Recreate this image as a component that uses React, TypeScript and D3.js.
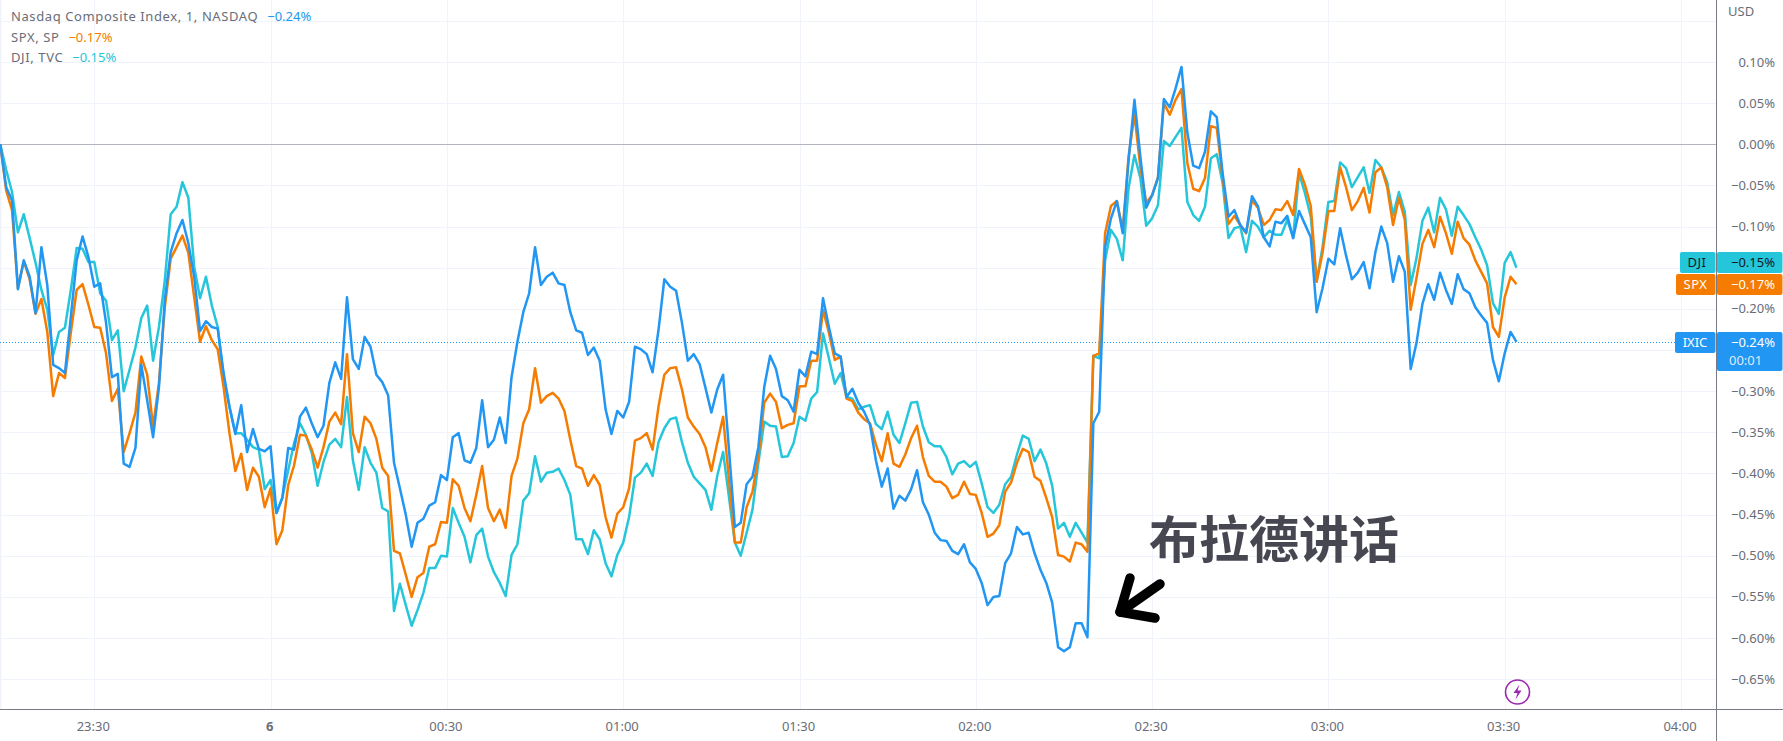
import React from "react";
import * as d3 from "d3";

const WIDTH = 1783;
const HEIGHT = 741;

const IXIC = [0,-.052,-.068,-.176,-.141,-.161,-.205,-.125,-.171,-.268,-.272,-.278,-.210,-.141,-.112,-.137,-.173,-.169,-.217,-.283,-.279,-.388,-.392,-.369,-.268,-.311,-.356,-.295,-.189,-.131,-.108,-.092,-.120,-.161,-.227,-.215,-.222,-.224,-.278,-.319,-.352,-.317,-.374,-.346,-.370,-.373,-.367,-.448,-.430,-.369,-.371,-.331,-.320,-.339,-.356,-.342,-.290,-.265,-.285,-.186,-.261,-.273,-.234,-.246,-.280,-.289,-.305,-.387,-.418,-.450,-.489,-.460,-.455,-.439,-.435,-.402,-.408,-.356,-.351,-.384,-.387,-.369,-.311,-.368,-.359,-.332,-.363,-.283,-.240,-.204,-.181,-.125,-.171,-.161,-.156,-.169,-.171,-.204,-.226,-.229,-.256,-.247,-.263,-.322,-.352,-.324,-.332,-.313,-.246,-.249,-.255,-.277,-.226,-.164,-.173,-.178,-.217,-.263,-.255,-.267,-.296,-.326,-.298,-.280,-.371,-.465,-.460,-.413,-.404,-.368,-.295,-.257,-.273,-.306,-.311,-.325,-.274,-.282,-.252,-.255,-.187,-.222,-.254,-.258,-.307,-.297,-.314,-.325,-.341,-.384,-.416,-.394,-.443,-.427,-.433,-.419,-.396,-.435,-.450,-.472,-.481,-.482,-.494,-.498,-.486,-.508,-.516,-.533,-.560,-.550,-.549,-.509,-.497,-.465,-.474,-.472,-.497,-.517,-.533,-.557,-.611,-.616,-.611,-.582,-.582,-.599,-.339,-.325,-.125,-.090,-.069,-.108,-.019,.054,-.015,-.077,-.062,-.041,.055,.045,.068,.094,.014,-.026,-.029,-.009,.040,.033,-.035,-.088,-.080,-.098,-.107,-.063,-.075,-.113,-.124,-.094,-.096,-.087,-.114,-.081,-.097,-.113,-.204,-.175,-.139,-.146,-.102,-.135,-.164,-.156,-.143,-.175,-.131,-.100,-.120,-.167,-.136,-.155,-.273,-.241,-.194,-.170,-.189,-.156,-.177,-.194,-.158,-.176,-.181,-.198,-.208,-.217,-.262,-.288,-.254,-.228,-.240];

const SPX = [0,-.056,-.080,-.175,-.142,-.164,-.206,-.188,-.228,-.306,-.278,-.284,-.229,-.177,-.170,-.195,-.222,-.223,-.254,-.312,-.297,-.374,-.351,-.326,-.258,-.280,-.343,-.290,-.198,-.139,-.125,-.111,-.132,-.186,-.240,-.221,-.238,-.249,-.295,-.351,-.397,-.376,-.420,-.393,-.404,-.441,-.418,-.486,-.469,-.414,-.390,-.353,-.354,-.371,-.393,-.368,-.337,-.326,-.340,-.255,-.351,-.374,-.331,-.339,-.358,-.393,-.403,-.494,-.497,-.523,-.550,-.526,-.521,-.489,-.486,-.459,-.460,-.407,-.415,-.442,-.458,-.426,-.391,-.442,-.458,-.444,-.466,-.403,-.382,-.339,-.322,-.272,-.314,-.306,-.302,-.309,-.324,-.359,-.391,-.394,-.415,-.402,-.414,-.453,-.478,-.449,-.441,-.418,-.360,-.357,-.351,-.371,-.319,-.280,-.272,-.271,-.298,-.332,-.343,-.352,-.368,-.397,-.363,-.331,-.408,-.484,-.484,-.441,-.422,-.380,-.314,-.303,-.313,-.345,-.341,-.339,-.294,-.294,-.263,-.263,-.201,-.229,-.262,-.258,-.309,-.312,-.326,-.334,-.339,-.365,-.385,-.351,-.388,-.392,-.377,-.357,-.342,-.380,-.403,-.410,-.410,-.416,-.430,-.426,-.410,-.425,-.426,-.448,-.477,-.473,-.463,-.422,-.411,-.387,-.370,-.374,-.404,-.409,-.430,-.453,-.499,-.501,-.507,-.484,-.486,-.495,-.257,-.254,-.108,-.075,-.069,-.104,-.015,.036,-.028,-.071,-.062,-.040,.050,.036,.054,.067,-.023,-.054,-.057,-.041,.022,.020,-.041,-.097,-.087,-.098,-.108,-.068,-.077,-.098,-.092,-.079,-.080,-.069,-.086,-.030,-.049,-.075,-.167,-.132,-.081,-.081,-.028,-.052,-.080,-.069,-.053,-.083,-.034,-.028,-.052,-.098,-.065,-.092,-.201,-.162,-.121,-.104,-.125,-.088,-.108,-.133,-.094,-.114,-.122,-.141,-.155,-.169,-.222,-.234,-.186,-.161,-.170];

const DJI = [0,-.031,-.058,-.107,-.085,-.114,-.144,-.177,-.201,-.256,-.228,-.223,-.177,-.126,-.127,-.143,-.143,-.181,-.190,-.238,-.226,-.300,-.274,-.247,-.211,-.196,-.263,-.222,-.165,-.085,-.076,-.046,-.065,-.149,-.187,-.161,-.196,-.222,-.283,-.319,-.351,-.351,-.359,-.368,-.371,-.419,-.408,-.448,-.429,-.396,-.363,-.339,-.353,-.375,-.415,-.386,-.365,-.358,-.368,-.307,-.384,-.420,-.368,-.387,-.399,-.442,-.446,-.567,-.534,-.560,-.585,-.566,-.545,-.515,-.515,-.500,-.501,-.442,-.460,-.477,-.508,-.475,-.467,-.501,-.520,-.533,-.549,-.499,-.486,-.433,-.424,-.379,-.410,-.399,-.398,-.394,-.408,-.426,-.480,-.480,-.498,-.469,-.480,-.509,-.525,-.499,-.484,-.453,-.405,-.399,-.388,-.403,-.362,-.345,-.334,-.332,-.362,-.387,-.404,-.412,-.420,-.444,-.403,-.374,-.429,-.484,-.500,-.472,-.444,-.387,-.337,-.342,-.343,-.380,-.379,-.363,-.331,-.336,-.309,-.301,-.230,-.260,-.291,-.278,-.307,-.309,-.322,-.319,-.317,-.340,-.346,-.325,-.353,-.363,-.339,-.314,-.313,-.343,-.362,-.367,-.367,-.380,-.401,-.388,-.385,-.392,-.386,-.412,-.441,-.448,-.438,-.413,-.404,-.377,-.354,-.358,-.385,-.371,-.388,-.415,-.467,-.460,-.477,-.460,-.472,-.484,-.257,-.260,-.141,-.104,-.115,-.141,-.053,-.013,-.041,-.099,-.090,-.074,.004,-.002,.009,.020,-.070,-.086,-.093,-.076,-.017,-.012,-.047,-.114,-.102,-.100,-.131,-.093,-.100,-.113,-.105,-.110,-.110,-.092,-.113,-.035,-.059,-.088,-.167,-.125,-.070,-.069,-.022,-.029,-.052,-.040,-.028,-.059,-.019,-.028,-.046,-.086,-.058,-.082,-.171,-.138,-.093,-.077,-.107,-.065,-.079,-.111,-.076,-.086,-.097,-.113,-.128,-.147,-.193,-.206,-.144,-.131,-.150];

const FIRST_MINUTE = -16; // minutes relative to 23:30
const TIME_TICKS = [0, 30, 60, 90, 120, 150, 180, 210, 240, 270];
const TIME_LABELS = ["23:30", "6", "00:30", "01:00", "01:30", "02:00", "02:30", "03:00", "03:30", "04:00"];
const PRICE_GRID = [0.15, 0.1, 0.05, 0, -0.05, -0.1, -0.15, -0.2, -0.25, -0.3, -0.35, -0.4, -0.45, -0.5, -0.55, -0.6, -0.65];
const PRICE_HIDDEN = [0.15, -0.15, -0.25];

const LEGEND = [
  { name: "Nasdaq Composite Index, 1, NASDAQ", value: "−0.24%", color: "#2196f3" },
  { name: "SPX, SP", value: "−0.17%", color: "#f57c00" },
  { name: "DJI, TVC", value: "−0.15%", color: "#26c6da" },
];

const BLUE = "#2196f3";
const ORANGE = "#f57c00";
const CYAN = "#26c6da";
const GRID = "#f0f3fa";
const AXIS = "#787b86";
const TEXT = "#6a6d78";
const FONT = "'Noto Sans', sans-serif";

const fmt = (v: number) => {
  const s = Math.abs(v).toFixed(2) + "%";
  return (v < -1e-9 ? "−" : "") + s;
};

export default function App() {
  const x = d3.scaleLinear().domain([0, 30]).range([94.3, 270.6]);
  const y = d3.scaleLinear().domain([0, -0.65]).range([144.3, 679.2]);
  const line = d3
    .line<number>()
    .x((_, i) => x(FIRST_MINUTE + i))
    .y((d) => y(d))
    .curve(d3.curveLinear);
  const lastY = y(IXIC[IXIC.length - 1]);

  return (
    <svg
      width={WIDTH}
      height={HEIGHT}
      style={{ position: "absolute", left: 0, top: 0, display: "block", background: "#fff" }}
      fontFamily={FONT}
    >
      <rect x={0} y={0} width={1.5} height={709} fill={GRID} />
      {PRICE_GRID.filter((v) => v !== 0).map((v) => (
        <line key={v} x1={0} x2={1716} y1={Math.round(y(v)) + 0.5} y2={Math.round(y(v)) + 0.5} stroke={GRID} />
      ))}
      {TIME_TICKS.map((t) => (
        <line key={t} x1={Math.round(x(t)) + 0.5} x2={Math.round(x(t)) + 0.5} y1={0} y2={709} stroke={GRID} />
      ))}
      <line x1={0} x2={1716} y1={144.5} y2={144.5} stroke="#b2b5be" />

      {/* last-price dotted line */}
      <line x1={0} x2={1676} y1={Math.round(lastY) + 0.5} y2={Math.round(lastY) + 0.5} stroke={BLUE} strokeDasharray="1 2" />

      <path d={line(DJI) ?? ""} fill="none" stroke={CYAN} strokeWidth={2.5} strokeLinejoin="round" />
      <path d={line(SPX) ?? ""} fill="none" stroke={ORANGE} strokeWidth={2.5} strokeLinejoin="round" />
      <path d={line(IXIC) ?? ""} fill="none" stroke={BLUE} strokeWidth={2.5} strokeLinejoin="round" />

      {/* legend */}
      {LEGEND.map((l, i) => (
        <text key={l.name} x={11} y={21 + i * 20.5} fontSize={13} fill={TEXT}>
          <tspan letterSpacing={0.6}>{l.name}</tspan>
          <tspan dx={9} fill={l.color}>{l.value}</tspan>
        </text>
      ))}

      {/* axes */}
      <line x1={0} x2={WIDTH} y1={709.5} y2={709.5} stroke={AXIS} />
      <line x1={1716.5} x2={1716.5} y1={0} y2={HEIGHT} stroke={AXIS} />

      {TIME_TICKS.map((t, i) => (
        <text
          key={t}
          x={x(t) - 1}
          y={731}
          textAnchor="middle"
          fontSize={13}
          fontWeight={TIME_LABELS[i] === "6" ? 700 : 400}
          fill={TEXT}
        >
          {TIME_LABELS[i]}
        </text>
      ))}

      <text x={1728} y={16} fontSize={13} fill={TEXT}>USD</text>
      {PRICE_GRID.filter((v) => !PRICE_HIDDEN.includes(v)).map((v) => (
        <text key={v} x={1775} y={y(v) + 4.5} textAnchor="end" fontSize={13} fill={TEXT}>
          {fmt(v)}
        </text>
      ))}

      {/* last value badges */}
      <rect x={1680} y={252} width={35.5} height={21} rx={2} fill={CYAN} />
      <rect x={1717} y={252} width={65.5} height={21} rx={2} fill={CYAN} />
      <text x={1697} y={267} textAnchor="middle" fontSize={13} letterSpacing={0.5} fill="#131722">DJI</text>
      <text x={1775} y={267} textAnchor="end" fontSize={13} fill="#131722">{fmt(DJI[DJI.length - 1])}</text>

      <rect x={1676} y={274} width={39.5} height={21} rx={2} fill={ORANGE} />
      <rect x={1717} y={274} width={65.5} height={21} rx={2} fill={ORANGE} />
      <text x={1695.5} y={289} textAnchor="middle" fontSize={13} letterSpacing={0.5} fill="#fff">SPX</text>
      <text x={1775} y={289} textAnchor="end" fontSize={13} fill="#fff">{fmt(SPX[SPX.length - 1])}</text>

      <rect x={1675} y={332} width={40.5} height={21} rx={2} fill={BLUE} />
      <rect x={1717} y={332} width={65.5} height={39} rx={2} fill={BLUE} />
      <text x={1695} y={347} textAnchor="middle" fontSize={13} fill="#fff">IXIC</text>
      <text x={1775} y={347} textAnchor="end" fontSize={13} fill="#fff">{fmt(IXIC[IXIC.length - 1])}</text>
      <text x={1729} y={365} fontSize={13} fill="#fff" fillOpacity={0.85}>00:01</text>

      {/* annotation */}
      <text x={1149} y={558} fontSize={50} fontWeight={700} fill="#464751" fontFamily="'Noto Sans CJK SC', sans-serif">
        布拉德讲话
      </text>
      <g fill="none" stroke="#000" strokeWidth={9.5} strokeLinecap="round" strokeLinejoin="round">
        <path d="M1160 584 L1120 612" />
        <path d="M1130 578 L1120 612 L1155 618" />
      </g>

      {/* lightning icon */}
      <circle cx={1517.5} cy={692} r={12} fill="#fff" stroke="#9c27b0" strokeWidth={1.6} />
      <path d="M1519.5 684.5 L1513.5 693 L1517.5 693 L1515.5 699.5 L1521.5 690.5 L1517.5 690.5 Z" fill="#9c27b0" />
    </svg>
  );
}
